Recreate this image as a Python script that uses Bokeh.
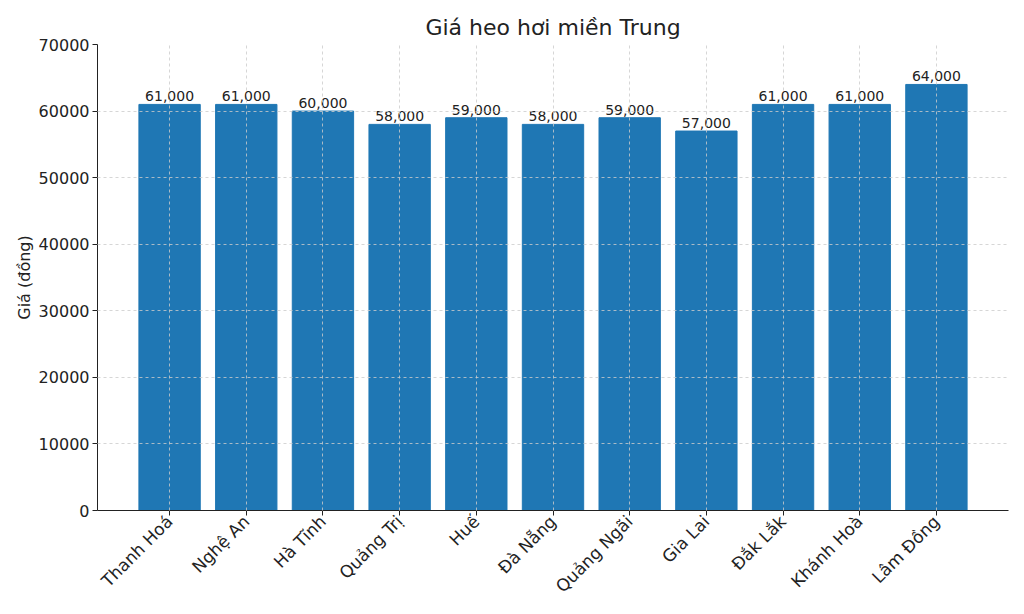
from bokeh.plotting import figure
from bokeh.models import ColumnDataSource, FixedTicker, Range1d
from bokeh.core.properties import value
from bokeh.embed import file_html
from bokeh.resources import INLINE
import math

provinces = ["Thanh Hoá", "Nghệ An", "Hà Tĩnh", "Quảng Trị", "Huế", "Đà Nẵng",
             "Quảng Ngãi", "Gia Lai", "Đắk Lắk", "Khánh Hoà", "Lâm Đồng"]
prices = [61000, 61000, 60000, 58000, 59000, 58000, 59000, 57000, 61000, 61000, 64000]
y_ticks = [0, 10000, 20000, 30000, 40000, 50000, 60000, 70000]

FONT = "DejaVu Sans"
idx = list(range(len(provinces)))
src = ColumnDataSource(dict(
    x=idx, top=prices, label=["{:,}".format(v) for v in prices]))

p = figure(width=1014, height=612, output_backend="svg", toolbar_location=None,
           x_range=Range1d(-0.94, len(provinces) - 1 + 0.94),
           y_range=Range1d(0, 70000),
           min_border_left=97, min_border_right=6, min_border_top=44, min_border_bottom=102)

p.vbar(x="x", top="top", width=0.8, source=src, fill_color="#1f77b4",
       line_color="#1f77b4")
p.text(x="x", y="top", text="label", source=src, text_align="center",
       text_baseline="bottom", y_offset=-3, text_font=value(FONT),
       text_font_size="14px", text_color="#222222")

p.title.text = "Giá heo hơi miền Trung"
p.title.align = "center"
p.title.text_font = FONT
p.title.text_font_size = "22px"
p.title.text_font_style = "normal"
p.title.text_color = "#222222"
p.title.offset = 0

p.outline_line_color = None

p.xaxis.ticker = FixedTicker(ticks=idx)
p.xaxis.major_label_overrides = {i: n for i, n in enumerate(provinces)}
p.xaxis.major_label_orientation = math.pi / 4
p.yaxis.ticker = FixedTicker(ticks=y_ticks)
p.yaxis.formatter.use_scientific = False
p.yaxis.axis_label = "Giá (đồng)"

for ax in (p.xaxis, p.yaxis):
    ax.major_label_text_font = FONT
    ax.major_label_text_font_size = "16px"
    ax.major_label_text_color = "#222222"
    ax.major_label_standoff = 3
    ax.axis_line_color = "#222222"
    ax.major_tick_line_color = "#222222"
    ax.major_tick_out = 5
    ax.major_tick_in = 0
    ax.minor_tick_line_color = None
    ax.axis_label_text_font = FONT
    ax.axis_label_text_font_size = "16px"
    ax.axis_label_text_font_style = "normal"
    ax.axis_label_text_color = "#222222"
    ax.axis_label_standoff = 2

p.xaxis.major_label_text_font_size = "17px"

for g in (p.xgrid, p.ygrid):
    g.grid_line_color = "#cccccc"
    g.grid_line_dash = "3 3"
    g.grid_line_alpha = 0.8
    g.level = "overlay"

open("out.html", "w").write(file_html(p, INLINE))
